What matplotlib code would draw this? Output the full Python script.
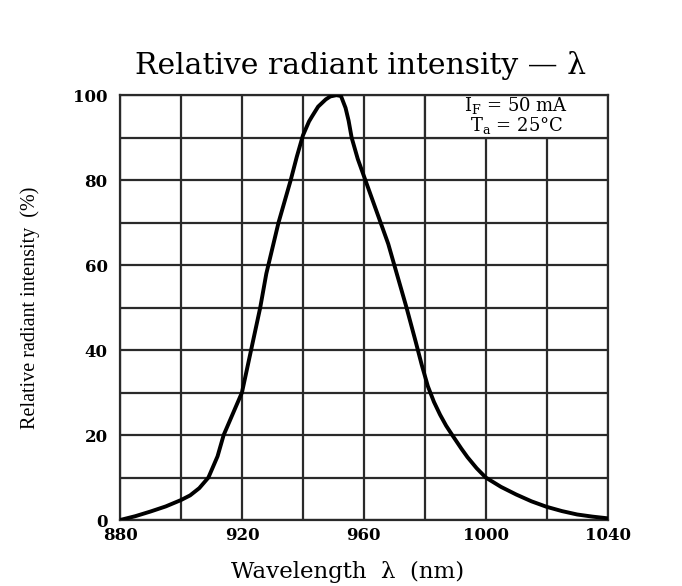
import numpy as np
import matplotlib
matplotlib.use("Agg")
import matplotlib.pyplot as plt
from matplotlib.patches import Rectangle

# ========================
# Data
# ========================
wavelength = [880, 885, 890, 895, 900, 903, 906, 909, 912, 914, 917, 920, 923,
              926, 928, 930, 932, 934, 936, 938, 940, 942, 943, 945, 947.5, 949,
              951, 952.5, 954, 955, 956, 958, 960.5, 963, 965.5, 968, 970, 972,
              974, 977, 979, 981, 983, 985, 987, 989, 992, 994, 997, 1000, 1005,
              1010, 1015, 1020, 1025, 1030, 1035, 1040]
intensity = [0, 0.9, 2, 3.2, 4.7, 5.8, 7.5, 10, 15, 20, 25, 30, 40,
             50, 58, 64, 70, 75, 80, 85.5, 90.5, 93.8, 95, 97.3, 99, 99.7,
             100, 99.8, 97, 94, 90, 85, 80, 75, 70, 65, 60, 55,
             50, 42, 36.5, 31.5, 27.8, 24.8, 22.2, 20, 16.8, 14.8, 12.2, 10, 7.8,
             6, 4.4, 3.1, 2.1, 1.3, 0.8, 0.4]

x_ticks = [880, 920, 960, 1000, 1040]
y_ticks = [0, 20, 40, 60, 80, 100]
title = "Relative radiant intensity \u2014 \u03bb"
x_label = "Wavelength  \u03bb  (nm)"
y_label = "Relative radiant intensity  (%)"
note_text = "I$_\\mathregular{F}$ = 50 mA\nT$_\\mathregular{a}$ = 25\u00b0C"

# ========================
# Style
# ========================
plt.rcParams["font.family"] = ["DejaVu Serif"]
plt.rcParams["mathtext.fontset"] = "dejavuserif"
GRID_COLOR = "#2a2a2a"

fig = plt.figure(figsize=(6.82, 5.86), dpi=100)
ax = fig.add_axes([0.176, 0.1126, 0.715, 0.725])

ax.plot(wavelength, intensity, color="black", lw=2.8, solid_capstyle="round",
        solid_joinstyle="round", zorder=3)

ax.set_xlim(880, 1040)
ax.set_ylim(0, 100)
ax.set_xticks(x_ticks)
ax.set_yticks(y_ticks)
ax.set_xticks(np.arange(880, 1041, 20), minor=True)
ax.set_yticks(np.arange(0, 101, 10), minor=True)
ax.set_axisbelow(True)
ax.grid(which="both", color=GRID_COLOR, lw=1.6)
ax.tick_params(which="both", length=0)
ax.tick_params(axis="y", pad=9, labelsize=12)
ax.tick_params(axis="x", pad=5, labelsize=12)
for lbl in ax.get_xticklabels() + ax.get_yticklabels():
    lbl.set_fontweight("bold")
for sp in ax.spines.values():
    sp.set_color(GRID_COLOR)
    sp.set_linewidth(1.6)

# condition box in top-right cell
ax.add_patch(Rectangle((980, 90), 60, 10, facecolor="white", edgecolor=GRID_COLOR,
                       lw=1.6, zorder=1.5))
ax.text(1010, 95.3, note_text, ha="center", va="center", fontsize=13,
        linespacing=0.95, zorder=4)

fig.text(0.528, 0.889, title, ha="center", va="center", fontsize=21.5)
fig.text(0.509, 0.024, x_label, ha="center", va="center", fontsize=16.5)
ax.set_ylabel(y_label, fontsize=14.5, labelpad=24,
              family=["Liberation Serif"])

fig.savefig("out.png", dpi=100)
